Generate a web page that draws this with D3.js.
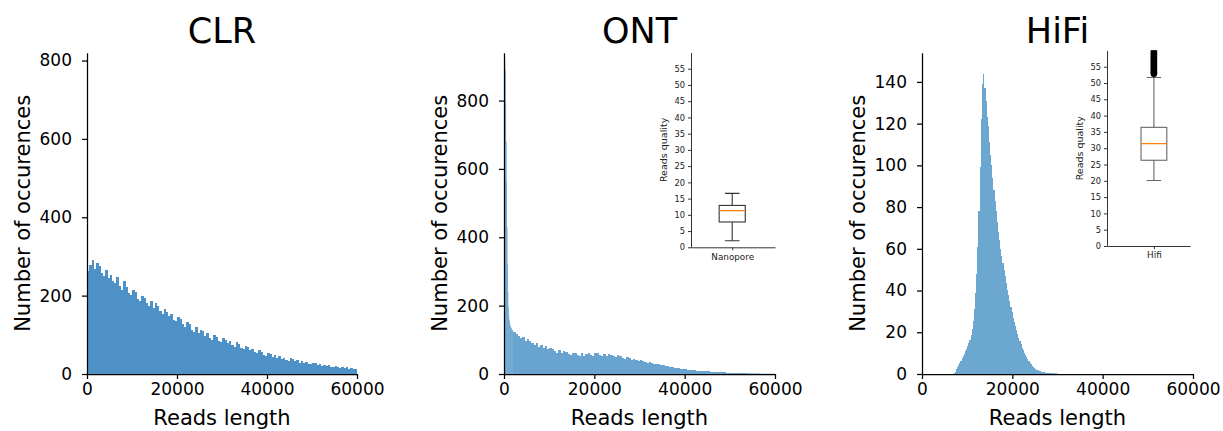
<!DOCTYPE html>
<html>
<head>
<meta charset="utf-8">
<script src="https://cdn.jsdelivr.net/npm/d3@7"></script>
<style>
    body { margin: 0; background: #fff; }
    svg { font-family: "DejaVu Sans", sans-serif; }
</style>
</head>
<body>
<div id="chart"></div>
<script>
// DATA
var titles = ["CLR", "ONT", "HiFi"];
var xTicks = [0, 20000, 40000, 60000];
var yMaxes = [820, 940, 154];
var clrYTicks = [0, 200, 400, 600, 800];
var ontYTicks = [0, 200, 400, 600, 800];
var hifiYTicks = [0, 20, 40, 60, 80, 100, 120, 140];

// CLR, bins of 500 from 0
var clrBinWidth = 500;
var clrCounts = [
    262, 279, 291, 268, 284, 276, 258, 251, 266, 245,
    252, 238, 231, 247, 225, 214, 238, 222, 207, 202,
    214, 208, 192, 187, 199, 194, 180, 173, 186, 168,
    181, 174, 160, 152, 166, 158, 147, 153, 139, 134,
    146, 140, 127, 121, 132, 127, 113, 108, 119, 104,
    113, 109, 97, 104, 92, 88, 100, 95, 85, 82,
    93, 88, 79, 84, 74, 70, 81, 76, 67, 64,
    72, 68, 60, 65, 56, 53, 61, 57, 49, 47,
    54, 51, 44, 48, 41, 45, 38, 42, 36, 34,
    40, 38, 32, 35, 29, 33, 28, 31, 26, 25,
    29, 27, 23, 25, 21, 24, 20, 22, 18, 17,
    20, 19, 16, 18, 15, 17, 14, 15, 13, 12
];

// ONT, fine bins of 100 for the spike, then bins of 500 from 2000
var ontHeadBinWidth = 100;
var ontHeadCounts = [936, 925, 890, 800, 680, 560, 430, 320, 240, 195,
    170, 156, 148, 142, 138, 135, 132, 130, 128, 126];
var ontBinWidth = 500;
var ontStart = 2000;
var ontCounts = [
    124, 118, 112, 104, 109, 98,
    101, 96, 90, 85, 91, 80, 86, 76, 81, 72,
    76, 72, 66, 62, 69, 60, 66, 64, 58, 57,
    62, 60, 55, 53, 61, 54, 59, 62, 55, 54,
    61, 60, 55, 53, 59, 54, 58, 56, 52, 50,
    55, 52, 48, 45, 49, 46, 42, 43, 40, 38,
    41, 38, 36, 33, 35, 32, 30, 29, 28, 25,
    27, 24, 23, 20, 21, 19, 18, 17, 16, 14,
    15, 13, 13, 11, 12, 10, 10, 9, 9, 8,
    8, 7, 7, 6, 6, 5, 5, 5, 4, 4,
    4, 4, 3, 3, 3, 3, 3, 2, 2, 2,
    2, 2, 2, 1, 1, 1, 1, 1, 1, 1
];

// HiFi, bins of 250 from 7000
var hifiBinWidth = 250;
var hifiStart = 7000;
var hifiCounts = [
    0.4, 0.8, 2.6, 3.2, 4.1, 5.2, 6.4, 7.6, 8.8, 9.7,
    11, 12, 13.2, 14.8, 16.5, 18.7, 21.5, 25.6, 31, 39,
    48, 61, 78, 99, 122, 139, 144, 137, 131, 123,
    119, 111, 105, 100, 94, 88, 83, 78, 73, 68,
    64, 60, 56.5, 53, 50, 47, 43.5, 40.5, 38, 35,
    32, 29.5, 27, 25, 23, 21, 19, 17.4, 15.8, 14.2,
    12.6, 11.4, 10.2, 9.1, 8.1, 7.1, 6.2, 5.4, 4.7, 4.0,
    3.4, 2.9, 2.5, 2.1, 1.8, 1.5, 1.3, 1.1, 1.0, 0.9,
    0.8, 0.7, 0.6, 0.55, 0.5, 0.45, 0.4, 0.4, 0.35, 0.35,
    0.3, 0.3
];

// reads quality boxplots (insets)
var qualityTicks = [0, 5, 10, 15, 20, 25, 30, 35, 40, 45, 50, 55];
var boxLabels = ["Nanopore", "Hifi"];
var boxWhiskerLow = [2.0, 20.1];
var boxQ1 = [7.8, 26.3];
var boxMedian = [11.3, 31.4];
var boxQ3 = [12.9, 36.4];
var boxWhiskerHigh = [16.6, 51.7];
var hifiFliers = [52.8, 53.3, 53.8, 54.3, 54.8, 55.3, 55.8, 56.3, 56.8,
    57.3, 57.8, 58.3, 58.8, 59.3, 59.8, 60.3];

function makeBins(start, width, counts) {
    return counts.map(function(n, i) {
        return {x0: start + i * width, x1: start + (i + 1) * width, n: n};
    });
}

var clrBins = makeBins(0, clrBinWidth, clrCounts);
var ontBins = makeBins(0, ontHeadBinWidth, ontHeadCounts)
    .concat(makeBins(ontStart, ontBinWidth, ontCounts));
var hifiBins = makeBins(hifiStart, hifiBinWidth, hifiCounts);

var width = 1223;
var height = 431;

var svg = d3.select("#chart").append("svg")
    .attr("width", width)
    .attr("height", height);

var panels = [
    {left: 87, right: 357, bins: clrBins, yTicks: clrYTicks, color: "#4d91c6"},
    {left: 504, right: 775, bins: ontBins, yTicks: ontYTicks, color: "#68a4cf"},
    {left: 922, right: 1193, bins: hifiBins, yTicks: hifiYTicks, color: "#6ca7d0"}
];
var plotTop = 52.7, plotBottom = 374;

panels.forEach(function(p, k) {
    var g = svg.append("g");

    var x = d3.scaleLinear().domain([0, 60000]).range([p.left, p.right]);
    var y = d3.scaleLinear().domain([0, yMaxes[k]]).range([plotBottom, plotTop]);

    // BARS (sub-pixel bins are left antialiased so they do not vanish)
    g.append("g")
        .selectAll("rect")
        .data(p.bins)
        .enter()
        .append("rect")
        .attr("shape-rendering", function(d) {
            return (x(d.x1) - x(d.x0) >= 1 && y(0) - y(d.n) >= 1) ? "crispEdges" : "auto";
        })
        .attr("x", function(d) { return x(d.x0); })
        .attr("width", function(d) { return x(d.x1) - x(d.x0) + 0.3; })
        .attr("y", function(d) { return y(d.n); })
        .attr("height", function(d) { return y(0) - y(d.n); })
        .attr("fill", p.color);

    // X AXIS
    var xAxis = d3.axisBottom(x)
        .tickValues(xTicks)
        .tickFormat(d3.format("d"))
        .tickSize(5)
        .tickSizeOuter(0)
        .tickPadding(4);

    var xg = g.append("g")
        .attr("transform", "translate(0," + plotBottom + ")")
        .call(xAxis);

    // Y AXIS
    var yAxis = d3.axisLeft(y)
        .tickValues(p.yTicks)
        .tickSize(5)
        .tickSizeOuter(0)
        .tickPadding(10);

    var yg = g.append("g")
        .attr("transform", "translate(" + p.left + ",0)")
        .call(yAxis);

    [xg, yg].forEach(function(a) {
        a.selectAll("path, line").attr("stroke", "#000").attr("stroke-width", 1.25);
        a.selectAll("text").attr("font-size", "17px").attr("fill", "#000")
            .attr("font-family", "DejaVu Sans, sans-serif");
    });

    // LABELS
    g.append("text")
        .attr("x", (p.left + p.right) / 2)
        .attr("y", 43)
        .attr("text-anchor", "middle")
        .attr("font-size", "35px")
        .text(titles[k]);

    g.append("text")
        .attr("x", (p.left + p.right) / 2)
        .attr("y", 425)
        .attr("text-anchor", "middle")
        .attr("font-size", "21px")
        .text("Reads length");

    g.append("text")
        .attr("transform", "translate(" + (p.left - 57) + "," + ((plotTop + plotBottom) / 2) + ") rotate(-90)")
        .attr("text-anchor", "middle")
        .attr("font-size", "21px")
        .text("Number of occurences");
});

// INSETS
var insets = [
    {left: 691, right: 775, bottom: 247.3, yTop: 52.5, xDomain: [0.21, 1.82], line: "#333"},
    {left: 1107, right: 1190, bottom: 246, yTop: 50.4, xDomain: [0.09, 1.70], line: "#666"}
];

insets.forEach(function(s, k) {
    var g = svg.append("g");

    var x = d3.scaleLinear().domain(s.xDomain).range([s.left, s.right]);
    var y = d3.scaleLinear().domain([0, 60]).range([s.bottom, s.yTop]);

    var clipId = "inset-clip-" + k;
    svg.append("clipPath").attr("id", clipId)
        .append("rect")
        .attr("x", s.left).attr("y", s.yTop)
        .attr("width", s.right - s.left).attr("height", s.bottom - s.yTop);

    var box = g.append("g").attr("clip-path", "url(#" + clipId + ")");
    var bw = 0.5, cw = 0.28;

    // whiskers
    box.append("line")
        .attr("x1", x(1)).attr("x2", x(1))
        .attr("y1", y(boxWhiskerLow[k])).attr("y2", y(boxQ1[k]))
        .attr("stroke", s.line).attr("stroke-width", 1.1);
    box.append("line")
        .attr("x1", x(1)).attr("x2", x(1))
        .attr("y1", y(boxQ3[k])).attr("y2", y(boxWhiskerHigh[k]))
        .attr("stroke", s.line).attr("stroke-width", 1.1);
    [boxWhiskerLow[k], boxWhiskerHigh[k]].forEach(function(v) {
        box.append("line")
            .attr("x1", x(1 - cw / 2)).attr("x2", x(1 + cw / 2))
            .attr("y1", y(v)).attr("y2", y(v))
            .attr("stroke", s.line).attr("stroke-width", 1.1);
    });

    // box
    box.append("rect")
        .attr("x", x(1 - bw / 2))
        .attr("width", x(1 + bw / 2) - x(1 - bw / 2))
        .attr("y", y(boxQ3[k]))
        .attr("height", y(boxQ1[k]) - y(boxQ3[k]))
        .attr("fill", "none")
        .attr("stroke", s.line)
        .attr("stroke-width", 1.1);

    box.append("line")
        .attr("x1", x(1 - bw / 2)).attr("x2", x(1 + bw / 2))
        .attr("y1", y(boxMedian[k])).attr("y2", y(boxMedian[k]))
        .attr("stroke", "#ff7f0e").attr("stroke-width", 1.1);

    if (k === 1) {
        box.selectAll("circle")
            .data(hifiFliers)
            .enter()
            .append("circle")
            .attr("cx", x(1))
            .attr("cy", function(d) { return y(d); })
            .attr("r", 3.3)
            .attr("fill", "#000");
    }

    // AXES
    var yAxis = d3.axisLeft(y)
        .tickValues(qualityTicks)
        .tickSize(3)
        .tickSizeOuter(0)
        .tickPadding(3);
    var yg = g.append("g")
        .attr("transform", "translate(" + s.left + ",0)")
        .call(yAxis);

    var xAxis = d3.axisBottom(x)
        .tickValues([1])
        .tickFormat(function() { return boxLabels[k]; })
        .tickSize(3)
        .tickSizeOuter(0)
        .tickPadding(3);
    var xg = g.append("g")
        .attr("transform", "translate(0," + s.bottom + ")")
        .call(xAxis);

    [xg, yg].forEach(function(a) {
        a.selectAll("path, line").attr("stroke", "#333").attr("stroke-width", 1);
        a.selectAll("text").attr("font-size", "8.3px").attr("fill", "#222")
            .attr("font-family", "DejaVu Sans, sans-serif");
    });
    xg.selectAll("text").attr("font-size", "8.8px");

    g.append("text")
        .attr("transform", "translate(" + (s.left - 24) + "," + ((s.bottom + s.yTop) / 2) + ") rotate(-90)")
        .attr("text-anchor", "middle")
        .attr("font-size", "9.5px")
        .attr("fill", "#222")
        .text("Reads quality");
});
</script>
</body>
</html>
